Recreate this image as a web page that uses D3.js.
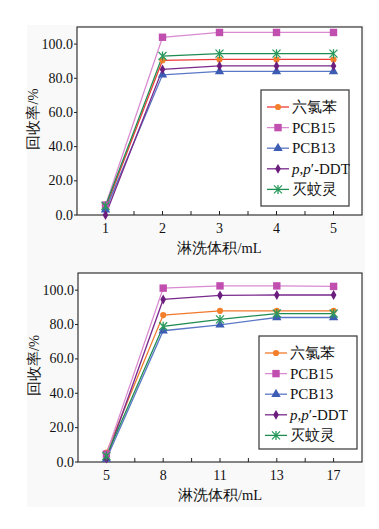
<!DOCTYPE html>
<html>
<head>
<meta charset="utf-8">
<script src="https://cdn.jsdelivr.net/npm/d3@7"></script>
<style>
  body { margin: 0; background: #fff; }
</style>
</head>
<body>
<svg id="chart" width="379" height="529"></svg>
<script>
// data
const seriesNames = ["六氯苯", "PCB15", "PCB13", "p,p′-DDT", "灭蚊灵"];
const lineColors = ["#ee3a37", "#d98ad0", "#5b78c6", "#7a2a8c", "#1f8c52"];
const markColors = ["#f47f2a", "#c14fb0", "#3d5db4", "#6b1e7e", "#2a9a5c"];
const markShapes = ["circle", "square", "triangle", "diamond", "asterisk"];

const topVolumes = [1, 2, 3, 4, 5];
const topHCB   = [4.0, 90.5, 91.0, 91.0, 91.0];
const topPCB15 = [5.8, 104.0, 106.8, 106.8, 106.8];
const topPCB13 = [3.0, 82.0, 84.0, 84.0, 84.0];
const topDDT   = [0.0, 85.2, 87.2, 87.2, 87.2];
const topMirex = [5.3, 93.0, 94.4, 94.4, 94.4];

const botVolumes = ["5", "8", "11", "13", "17"];
const botHCB   = [5.5, 85.5, 88.0, 88.0, 88.0];
const botPCB15 = [4.6, 101.2, 102.5, 102.5, 102.2];
const botPCB13 = [1.7, 76.4, 79.8, 84.1, 84.1];
const botDDT   = [2.0, 94.6, 97.0, 97.2, 97.2];
const botMirex = [3.5, 79.0, 83.0, 86.4, 86.4];

const yTicks = [0, 20, 40, 60, 80, 100];

const svg = d3.select("#chart");

// faint grey page background of the scan
svg.append("rect").attr("x", 27).attr("y", 25).attr("width", 338).attr("height", 482)
  .attr("fill", "#f9f9f9");

function marker(g, shape, color, x, y) {
  if (shape === "asterisk") {
    const s = 4;
    g.append("path")
      .attr("d", `M${x-s},${y-s}L${x+s},${y+s}M${x-s},${y+s}L${x+s},${y-s}M${x},${y-s-0.5}L${x},${y+s+0.5}`)
      .attr("stroke", color).attr("stroke-width", 1.3).attr("fill", "none");
    return;
  }
  const types = { circle: d3.symbolCircle, square: d3.symbolSquare, triangle: d3.symbolTriangle, diamond: d3.symbolDiamond };
  const sizes = { circle: 30, square: 55, triangle: 38, diamond: 28 };
  g.append("path")
    .attr("d", d3.symbol().type(types[shape]).size(sizes[shape])())
    .attr("transform", `translate(${x},${y})`)
    .attr("fill", color);
}

function txt(g) {
  return g.append("text").attr("font-family", "Liberation Serif").attr("fill", "#111");
}

function drawPanel(cfg) {
  const { left, right, top, bottom } = cfg;
  const g = svg.append("g");

  const y = d3.scaleLinear().domain([0, 110]).range([bottom, top]);
  let x, halfTicks;
  if (cfg.linear) {
    x = d3.scaleLinear().domain([0.5, 5.5]).range([left, right]);
    halfTicks = d3.range(1.5, 5.5, 1).map(x);
  } else {
    x = d3.scalePoint().domain(cfg.xs).range([left, right]).padding(0.5);
    halfTicks = cfg.xs.slice(1).map(v => x(v) - x.step() / 2);
  }

  // frame
  g.append("rect").attr("x", left).attr("y", top)
    .attr("width", right - left).attr("height", bottom - top)
    .attr("fill", "#fff").attr("stroke", "#222").attr("stroke-width", 1.1);

  // x ticks, pointing inside
  const allTicks = cfg.xs.map(x).concat(halfTicks);
  g.selectAll(".xt").data(allTicks).join("line")
    .attr("x1", d => d).attr("x2", d => d)
    .attr("y1", bottom).attr("y2", bottom - 4)
    .attr("stroke", "#222").attr("stroke-width", 1);

  cfg.xs.forEach(d => {
    txt(g).attr("x", x(d)).attr("y", bottom + 18)
      .attr("text-anchor", "middle").attr("font-size", 14)
      .text(d);
  });

  // y axis ticks and labels
  g.selectAll(".yt").data(yTicks).join("line")
    .attr("x1", left - 3).attr("x2", left)
    .attr("y1", d => y(d)).attr("y2", d => y(d))
    .attr("stroke", "#222");
  yTicks.forEach(d => {
    txt(g).attr("x", left - 4).attr("y", y(d) + 4.5)
      .attr("text-anchor", "end").attr("font-size", 14)
      .text(d.toFixed(1));
  });

  // axis titles
  txt(g)
    .attr("transform", `translate(${left - 39},${(top + bottom) / 2 - 2}) rotate(-90)`)
    .attr("text-anchor", "middle").attr("font-size", 14.5)
    .text("回收率/%");
  txt(g)
    .attr("x", (left + right) / 2).attr("y", bottom + 38)
    .attr("text-anchor", "middle").attr("font-size", 14.5)
    .text("淋洗体积/mL");

  // series
  const line = d3.line().x((d, i) => x(cfg.xs[i])).y(d => y(d));
  cfg.series.forEach((vals, k) => {
    g.append("path").datum(vals)
      .attr("d", line)
      .attr("fill", "none")
      .attr("stroke", cfg.lineColors[k])
      .attr("stroke-width", 1.3);
  });
  cfg.series.forEach((vals, k) => {
    vals.forEach((v, i) => marker(g, markShapes[k], markColors[k], x(cfg.xs[i]), y(v)));
  });

  // legend
  const L = cfg.legend;
  g.append("rect").attr("x", L.x).attr("y", L.y).attr("width", L.w).attr("height", L.h)
    .attr("fill", "#fff").attr("stroke", "#444").attr("stroke-width", 1.3);
  seriesNames.forEach((name, k) => {
    const cy = L.y + 17 + k * 20.6;
    g.append("line").attr("x1", L.x + 6).attr("x2", L.x + 28)
      .attr("y1", cy).attr("y2", cy)
      .attr("stroke", cfg.lineColors[k]).attr("stroke-width", 1.3);
    marker(g, markShapes[k], markColors[k], L.x + 17, cy);
    const t = txt(g).attr("x", L.x + 31).attr("y", cy + 5)
      .attr("font-size", 15);
    if (name === "p,p′-DDT") {
      t.append("tspan").attr("font-style", "italic").text("p");
      t.append("tspan").text(",");
      t.append("tspan").attr("font-style", "italic").text("p");
      t.append("tspan").text("′-DDT");
    } else {
      t.text(name);
    }
  });
}

drawPanel({
  linear: true, xs: topVolumes,
  left: 77, right: 362, top: 27, bottom: 215,
  series: [topHCB, topPCB15, topPCB13, topDDT, topMirex],
  lineColors: lineColors,
  legend: { x: 261, y: 90, w: 88, h: 116 }
});

drawPanel({
  linear: false, xs: botVolumes,
  left: 78, right: 362, top: 273, bottom: 462,
  series: [botHCB, botPCB15, botPCB13, botDDT, botMirex],
  lineColors: ["#f07a2c", "#d98ad0", "#5b78c6", "#7a2a8c", "#1f8c52"],
  legend: { x: 259, y: 336, w: 98, h: 113 }
});
</script>
</body>
</html>
